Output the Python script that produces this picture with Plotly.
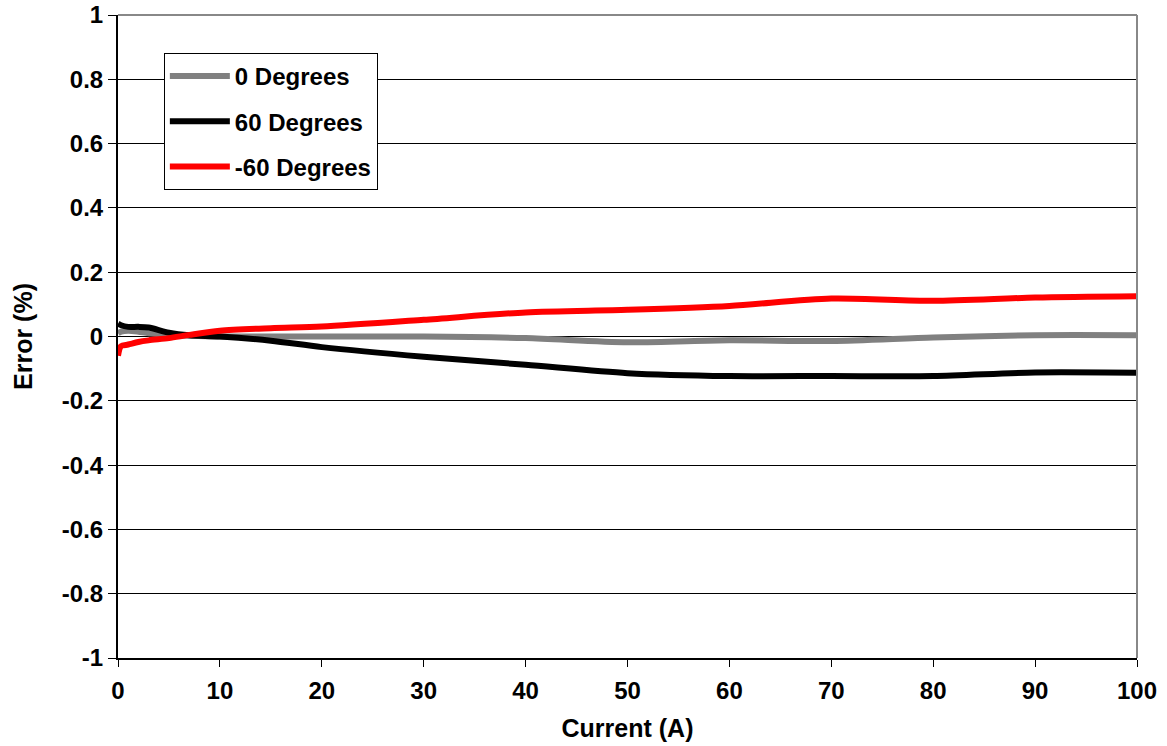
import plotly.graph_objects as go

current = [0, 0.3, 1, 2, 3, 5, 7, 10, 15, 20, 30, 40, 50, 60, 70, 80, 90, 100]
err_0 = [0.01, 0.015, 0.018, 0.015, 0.01, 0.005, 0.002, 0.0, 0.0, 0.0, 0.0, -0.005, -0.018, -0.012, -0.014, -0.003, 0.004, 0.004]
err_60 = [0.04, 0.035, 0.03, 0.03, 0.028, 0.012, 0.004, 0.0, -0.013, -0.033, -0.063, -0.088, -0.114, -0.123, -0.123, -0.123, -0.112, -0.113]
err_m60 = [-0.06, -0.03, -0.025, -0.017, -0.012, -0.005, 0.005, 0.018, 0.026, 0.031, 0.052, 0.075, 0.083, 0.095, 0.118, 0.111, 0.121, 0.125]

series = [("0 Degrees", err_0, "#808080"),
          ("60 Degrees", err_60, "#000000"),
          ("-60 Degrees", err_m60, "#ff0000")]

x_ticks = list(range(0, 101, 10))
y_ticks = [1, 0.8, 0.6, 0.4, 0.2, 0, -0.2, -0.4, -0.6, -0.8, -1]
y_labels = ["1", "0.8", "0.6", "0.4", "0.2", "0", "-0.2", "-0.4", "-0.6", "-0.8", "-1"]

fig = go.Figure()
for i, (name, vals, col) in enumerate(series):
    fig.add_trace(go.Scatter(x=current, y=vals, name=name, mode="lines",
                             legendgroup=f"g{i}",
                             line=dict(color=col, width=6, shape="spline", smoothing=0.8)))

FAM = "Liberation Sans, Arial, sans-serif"
tick_font = dict(family=FAM, size=24, color="#000000", weight="bold")
title_font = dict(family=FAM, size=25, color="#000000", weight="bold")

fig.update_layout(
    width=1167, height=746,
    margin=dict(l=118, r=30, t=15, b=88),
    paper_bgcolor="white", plot_bgcolor="white",
    showlegend=True,
    legend=dict(x=0.045, y=0.941, xanchor="left", yanchor="top",
                bordercolor="#000000", borderwidth=1, bgcolor="white",
                tracegroupgap=11, itemwidth=60,
                font=dict(family=FAM, size=24, color="#000000", weight="bold")),
    xaxis=dict(range=[0, 100], tickvals=x_ticks, ticks="outside", ticklen=7, tickcolor="#000000",
               showgrid=False, zeroline=False, showline=True, linecolor="#000000", linewidth=1.5,
               automargin=False, ticklabelstandoff=3, ticklabeloverflow="allow",
               tickfont=tick_font,
               title=dict(text="Current (A)", font=title_font, standoff=17)),
    yaxis=dict(range=[-1, 1], tickvals=y_ticks, ticktext=y_labels, ticks="outside", ticklen=8,
               tickcolor="#000000",
               showgrid=True, gridcolor="#000000", gridwidth=1,
               zeroline=True, zerolinecolor="#000000", zerolinewidth=1,
               showline=True, linecolor="#000000", linewidth=2,
               automargin=False, ticklabelstandoff=0, ticklabeloverflow="allow",
               tickfont=tick_font,
               title=dict(text="Error (%)", font=title_font, standoff=22)),
)

# gray top and right frame
fig.add_shape(type="line", xref="paper", yref="paper", x0=0, x1=1, y0=1, y1=1,
              line=dict(color="#888888", width=2), layer="above")
fig.add_shape(type="line", xref="paper", yref="paper", x0=1, x1=1, y0=0, y1=1,
              line=dict(color="#888888", width=2), layer="above")

fig.write_html("out.html", config={"displayModeBar": False},
               post_script="document.body.style.margin='0';document.body.style.overflow='hidden';")
